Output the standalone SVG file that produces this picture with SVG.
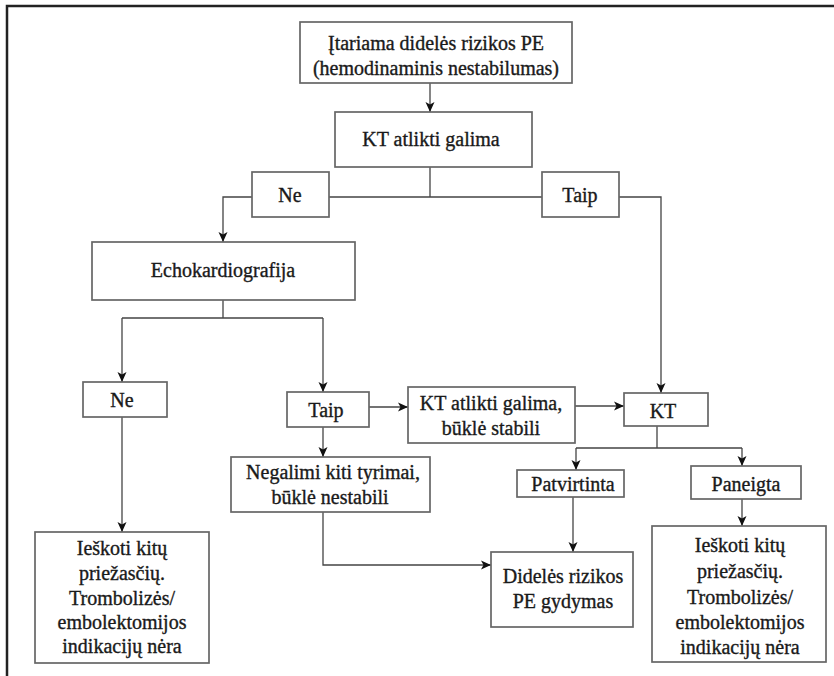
<svg xmlns="http://www.w3.org/2000/svg" width="834" height="676" viewBox="0 0 834 676">
<defs>
<marker id="ah" markerWidth="10" markerHeight="12" refX="10" refY="5" orient="auto" markerUnits="userSpaceOnUse">
<path d="M0,0.5 L10,5 L0,9.5 L2.5,5 Z" fill="#111"/>
</marker>
<style>
.box{fill:#fff;stroke:#666;stroke-width:1.7}
.t{font-size:20px;fill:#1a1a1a;stroke:#1a1a1a;stroke-width:0.35;text-anchor:middle;dominant-baseline:central}
.c{fill:none;stroke:#444;stroke-width:1.3}
.a{fill:none;stroke:#444;stroke-width:1.3;marker-end:url(#ah)}
</style>
</defs>
<rect width="834" height="676" fill="#fff"/>
<path d="M7,676 V6 H834" fill="none" stroke="#222" stroke-width="2.5"/>
<g id="connectors">
<path class="a" d="M430,83 V112"/>
<path class="c" d="M430,167 V197 M329,197 H542"/>
<path class="a" d="M252,197 H223 V242"/>
<path class="a" d="M619,197 H661 V393"/>
<path class="c" d="M223,300 V318 M122,318 H323"/>
<path class="a" d="M122,318 V382"/>
<path class="a" d="M323,318 V392"/>
<path class="a" d="M369,407 H408"/>
<path class="a" d="M575,406 H624"/>
<path class="c" d="M657,426 V448 M576,448 H742"/>
<path class="a" d="M576,448 V470"/>
<path class="a" d="M742,448 V466"/>
<path class="a" d="M742,499 V526"/>
<path class="a" d="M573,497 V552"/>
<path class="a" d="M323,427 V457"/>
<path class="a" d="M323,512 V565 H491"/>
<path class="a" d="M122,417 V532"/>
</g>
<g id="n1"><rect class="box" x="300" y="22" width="272" height="61"/><text class="t" font-family="Liberation Serif" x="436" y="43">Įtariama didelės rizikos PE</text><text class="t" font-family="Liberation Serif" x="436" y="68">(hemodinaminis nestabilumas)</text></g>
<g id="n2"><rect class="box" x="335" y="112" width="197" height="55"/><text class="t" font-family="Liberation Serif" x="431" y="139">KT atlikti galima</text></g>
<g id="n3"><rect class="box" x="252" y="172" width="77" height="45"/><text class="t" font-family="Liberation Serif" x="290" y="195">Ne</text></g>
<g id="n4"><rect class="box" x="542" y="172" width="77" height="45"/><text class="t" font-family="Liberation Serif" x="580" y="195">Taip</text></g>
<g id="n5"><rect class="box" x="92" y="242" width="263" height="58"/><text class="t" font-family="Liberation Serif" x="223" y="270">Echokardiografija</text></g>
<g id="n6"><rect class="box" x="83" y="382" width="84" height="35"/><text class="t" font-family="Liberation Serif" x="122" y="400">Ne</text></g>
<g id="n7"><rect class="box" x="287" y="392" width="82" height="35"/><text class="t" font-family="Liberation Serif" x="326" y="410">Taip</text></g>
<g id="n8"><rect class="box" x="408" y="387" width="167" height="56"/><text class="t" font-family="Liberation Serif" x="491" y="403">KT atlikti galima,</text><text class="t" font-family="Liberation Serif" x="491" y="428">būklė stabili</text></g>
<g id="n9"><rect class="box" x="624" y="393" width="84" height="33"/><text class="t" font-family="Liberation Serif" x="663" y="411">KT</text></g>
<g id="n10"><rect class="box" x="231" y="457" width="199" height="55"/><text class="t" font-family="Liberation Serif" x="333" y="472">Negalimi kiti tyrimai,</text><text class="t" font-family="Liberation Serif" x="330" y="497">būklė nestabili</text></g>
<g id="n11"><rect class="box" x="517" y="470" width="107" height="27"/><text class="t" font-family="Liberation Serif" x="573" y="484">Patvirtinta</text></g>
<g id="n12"><rect class="box" x="691" y="466" width="110" height="33"/><text class="t" font-family="Liberation Serif" x="746" y="484">Paneigta</text></g>
<g id="n13"><rect class="box" x="35" y="532" width="174" height="131"/><text class="t" font-family="Liberation Serif" x="122" y="548">Ieškoti kitų</text><text class="t" font-family="Liberation Serif" x="122" y="573">priežasčių.</text><text class="t" font-family="Liberation Serif" x="122" y="598">Trombolizės/</text><text class="t" font-family="Liberation Serif" x="122" y="622">embolektomijos</text><text class="t" font-family="Liberation Serif" x="122" y="646">indikacijų nėra</text></g>
<g id="n14"><rect class="box" x="491" y="552" width="142" height="75"/><text class="t" font-family="Liberation Serif" x="563" y="576">Didelės rizikos</text><text class="t" font-family="Liberation Serif" x="563" y="601">PE gydymas</text></g>
<g id="n15"><rect class="box" x="652" y="526" width="174" height="136"/><text class="t" font-family="Liberation Serif" x="740" y="545">Ieškoti kitų</text><text class="t" font-family="Liberation Serif" x="740" y="571">priežasčių.</text><text class="t" font-family="Liberation Serif" x="740" y="597">Trombolizės/</text><text class="t" font-family="Liberation Serif" x="740" y="622">embolektomijos</text><text class="t" font-family="Liberation Serif" x="740" y="647">indikacijų nėra</text></g>
</svg>
